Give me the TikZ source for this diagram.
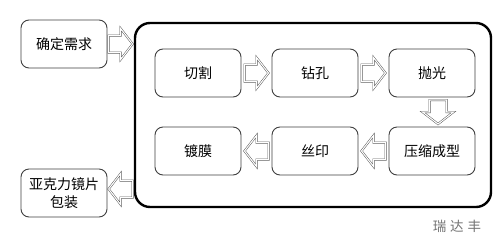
\documentclass[tikz,border=0pt]{standalone}
\usepackage{fontspec}
\usetikzlibrary{calc}
\setmainfont{Noto Sans CJK SC}
\newfontfamily\markfont[LetterSpace=28]{Noto Sans CJK SC}
\begin{document}
\begin{tikzpicture}[x=1pt,y=-1pt,
  stepbox/.style={draw=black!75,line width=0.9pt,rounded corners=8pt,minimum width=86pt,minimum height=48pt,inner sep=0pt,align=center,font=\fontsize{14}{18}\selectfont,text=black},
  bigbox/.style={draw=black,line width=2.4pt,rounded corners=15pt,minimum width=356pt,minimum height=184pt,inner sep=0pt},
  arrowline/.style={draw=black!70,line width=0.45pt,double=white,double distance=1.1pt,fill=white,line join=miter},
  barrow/.pic={\draw[arrowline] (-12,-8.5) -- (0,-8.5) -- (0,-15.5) -- (12,0) -- (0,15.5) -- (0,8.5) -- (-12,8.5) -- cycle;}
]
\useasboundingbox (0,0) rectangle (500,239);
\fill[white] (0,0) rectangle (500,239);
\node[bigbox] (proc) at (313,115) {};
\node[stepbox] (need) at (64,44) {确定需求};
\node[stepbox] (pack) at (64,193) {亚克力镜片\\包装};
\node[stepbox] (cut) at (198,73) {切割};
\node[stepbox] (drill) at (315,73) {钻孔};
\node[stepbox] (polish) at (432,73) {抛光};
\node[stepbox] (press) at (432,151) {压缩成型};
\node[stepbox] (print) at (315,151) {丝印};
\node[stepbox] (coat) at (198,151) {镀膜};
\node[text=black!55,font=\markfont\fontsize{13.5}{15}\selectfont] (mark) at (457,226) {瑞达丰};
\pic at ($(need.east)!0.5!(need.east -| proc.west)$) {barrow};
\pic at ($(cut.east)!0.5!(drill.west)$) {barrow};
\pic at ($(drill.east)!0.5!(polish.west)$) {barrow};
\pic[rotate=-90] at ($(polish.south)!0.5!(press.north)+(6,0)$) {barrow};
\pic[rotate=180] at ($(press.west)!0.5!(print.east)$) {barrow};
\pic[rotate=180] at ($(print.west)!0.5!(coat.east)$) {barrow};
\pic[rotate=180] at ($(pack.east)!0.5!(pack.east -| proc.west)+(0,-4)$) {barrow};
\end{tikzpicture}
\end{document}
